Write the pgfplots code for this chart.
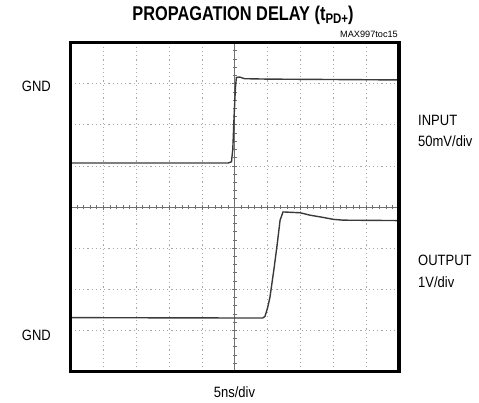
\documentclass[border=0pt]{standalone}
\usepackage{fontspec}
\setmainfont{Liberation Sans}
\usepackage{pgfplots}
\pgfplotsset{compat=1.18}
\definecolor{trace}{HTML}{3A3A3A}
\definecolor{gridc}{HTML}{A8A8A8}
\definecolor{axc}{HTML}{707070}
\newcommand{\lab}[1]{\fontsize{15}{15}\selectfont\scalebox{0.87}[1]{#1}}
\begin{document}
\begin{tikzpicture}[x=1bp,y=1bp]
\path[use as bounding box] (0,0) rectangle (479,402);
\begin{axis}[
  at={(70.5bp,30.5bp)}, anchor=south west,
  scale only axis, width=328.5bp, height=329bp,
  xmin=-5, xmax=5, ymin=-4, ymax=4,
  axis lines=middle,
  axis line style={-, axc, line width=0.7bp},
  every inner x axis line/.append style={-},
  every inner y axis line/.append style={-},
  xtick={-5,...,5}, ytick={-4,...,4},
  minor x tick num=4, minor y tick num=4,
  xticklabels={}, yticklabels={},
  tick align=center,
  major tick length=5bp, minor tick length=4bp,
  tick style={axc, line width=0.7bp},
  grid=major,
  major grid style={gridc, dash pattern=on 1.2bp off 3bp, line width=0.7bp},
]
% INPUT trace
\addplot[trace, line width=1.4bp] coordinates {
(-5,1.07) (-0.2,1.07) (-0.1,1.10) (-0.06,1.40) (-0.02,2.20) (0.02,2.90) (0.05,3.15) (0.15,3.16) (0.3,3.12) (1,3.11) (5,3.09)
};
% OUTPUT trace
\addplot[trace, line width=1.4bp] coordinates {
(-5,-2.69) (0.85,-2.70) (0.92,-2.66) (1.0,-2.45) (1.07,-2.20) (1.19,-1.53) (1.29,-0.92) (1.38,-0.32) (1.47,-0.12) (1.99,-0.14) (2.3,-0.20) (2.6,-0.24) (3.0,-0.30) (3.3,-0.32) (5,-0.33)
};
\end{axis}
\draw[black, line width=3.5bp] (70.5,30.5) rectangle (399,359.5);
% title
\node[anchor=base] at (243,382) {\fontsize{20}{20}\selectfont\bfseries\scalebox{0.82}[1]{PROPAGATION DELAY (t\raisebox{-3bp}{\fontsize{14}{14}\selectfont PD+})}};
\node[anchor=base east, inner sep=0pt] at (398,364.5) {\fontsize{9.2}{9.2}\selectfont MAX997toc15};
% side labels
\node[anchor=base east, inner sep=0pt] at (51,311) {\lab{GND}};
\node[anchor=base east, inner sep=0pt] at (51,62) {\lab{GND}};
\node[anchor=base west, inner sep=0pt] at (418,277) {\lab{INPUT}};
\node[anchor=base west, inner sep=0pt] at (418,256) {\lab{50mV/div}};
\node[anchor=base west, inner sep=0pt] at (418,137) {\lab{OUTPUT}};
\node[anchor=base west, inner sep=0pt] at (418,115) {\lab{1V/div}};
\node[anchor=base, inner sep=0pt] at (234.5,5) {\lab{5ns/div}};
\end{tikzpicture}
\end{document}
